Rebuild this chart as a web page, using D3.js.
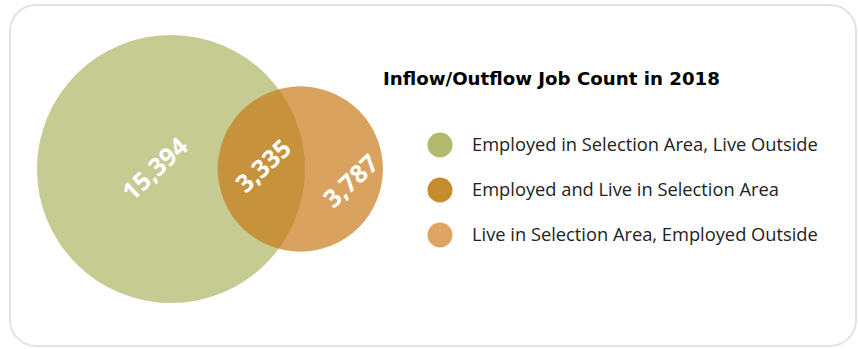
<!DOCTYPE html>
<html>
<head>
<meta charset="utf-8">
<script src="https://cdn.jsdelivr.net/npm/d3@7"></script>
<style>
  html, body { margin: 0; padding: 0; background: #fff; }
  svg { display: block; }
</style>
</head>
<body>
<div id="chart"></div>
<script>
// Job counts (2018)
const categories = [
  "Employed in Selection Area, Live Outside",
  "Employed and Live in Selection Area",
  "Live in Selection Area, Employed Outside"
];
const jobCounts = [15394, 3335, 3787];
const legendColors = ["#b3ba6e", "#c48c2c", "#dea464"];
const chartTitle = "Inflow/Outflow Job Count in 2018";

const width = 858;
const height = 349;

const svg = d3.select("#chart").append("svg")
  .attr("width", width)
  .attr("height", height);

// card frame
svg.append("rect")
  .attr("x", 10)
  .attr("y", 5)
  .attr("width", 846)
  .attr("height", 341)
  .attr("rx", 26)
  .attr("fill", "#fff")
  .attr("stroke", "#e2e2e0")
  .attr("stroke-width", 2);

// circle sizes: area proportional to totals
const workTotal = jobCounts[0] + jobCounts[1];
const liveTotal = jobCounts[1] + jobCounts[2];
const r = d3.scaleSqrt().domain([0, workTotal]).range([0, 134]);
const r1 = r(workTotal);
const r2 = r(liveTotal);
const overlapTarget = Math.PI * r(jobCounts[1]) ** 2;

function lensArea(d) {
  if (d >= r1 + r2) return 0;
  if (d <= Math.abs(r1 - r2)) return Math.PI * Math.min(r1, r2) ** 2;
  const a = (d * d + r1 * r1 - r2 * r2) / (2 * d);
  const b = d - a;
  return r1 * r1 * Math.acos(a / r1) - a * Math.sqrt(r1 * r1 - a * a)
       + r2 * r2 * Math.acos(b / r2) - b * Math.sqrt(r2 * r2 - b * b);
}
// bisection for the distance between centers
let lo = Math.abs(r1 - r2), hi = r1 + r2;
for (let i = 0; i < 60; i++) {
  const mid = (lo + hi) / 2;
  if (lensArea(mid) > overlapTarget) lo = mid; else hi = mid;
}
const dist = (lo + hi) / 2;

const cy = 169;
const cx1 = 37 + r1;
const cx2 = cx1 + dist;

const venn = svg.append("g");

venn.append("circle")
  .attr("cx", cx1)
  .attr("cy", cy)
  .attr("r", r1)
  .attr("fill", legendColors[0])
  .attr("fill-opacity", 0.75);

venn.append("circle")
  .attr("cx", cx2)
  .attr("cy", cy)
  .attr("r", r2)
  .attr("fill", "#c77610")
  .attr("fill-opacity", 0.67);

// label spots
const leftEdge2 = cx2 - r2;
const rightEdge1 = cx1 + r1;
const labelPos = [
  [cx1 - 16, cy],
  [(leftEdge2 + rightEdge1) / 2 + 2, cy - 3],
  [(rightEdge1 + cx2 + r2) / 2 + 7, cy + 12]
];

venn.selectAll(".count-label")
  .data(jobCounts)
  .enter()
  .append("text")
  .attr("class", "count-label")
  .attr("transform", (d, i) => `translate(${labelPos[i][0]},${labelPos[i][1]}) rotate(-43)`)
  .attr("text-anchor", "middle")
  .attr("dy", "0.35em")
  .style("font-family", "'Open Sans', sans-serif")
  .style("font-weight", "700")
  .style("font-size", "25px")
  .attr("fill", "#fff")
  .text(d => d3.format(",")(d));

// title
const title = svg.append("text")
  .attr("x", 383)
  .attr("y", 85)
  .style("font-family", "'DejaVu Sans', sans-serif")
  .style("font-weight", "700")
  .style("font-size", "17px")
  .attr("fill", "#000")
  .text(chartTitle);
// fit title to the width it has in the original
title.style("font-size", (17 * 337 / title.node().getComputedTextLength()) + "px");

// legend
const legendY = d3.scalePoint()
  .domain(categories)
  .range([145, 235]);

const legend = svg.append("g");

legend.selectAll("circle")
  .data(categories)
  .enter()
  .append("circle")
  .attr("cx", 440)
  .attr("cy", d => legendY(d))
  .attr("r", 12.5)
  .attr("fill", (d, i) => legendColors[i]);

const legendText = legend.selectAll("text")
  .data(categories)
  .enter()
  .append("text")
  .attr("x", 472)
  .attr("y", d => legendY(d))
  .attr("dy", "0.35em")
  .style("font-family", "'Open Sans', sans-serif")
  .style("font-size", "16px")
  .attr("fill", "#222")
  .text(d => d);

const firstLen = legendText.node().getComputedTextLength();
legendText.style("font-size", (16 * 346 / firstLen) + "px");
</script>
</body>
</html>
